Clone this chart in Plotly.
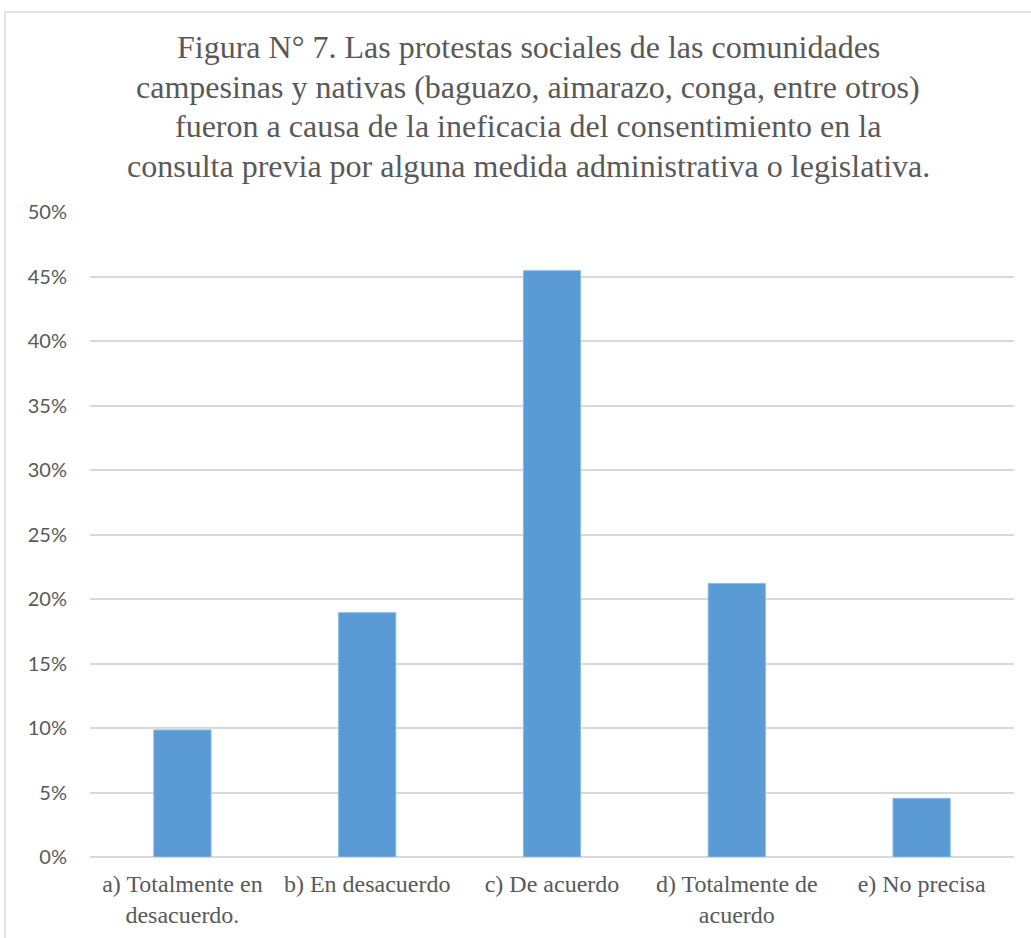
import plotly.graph_objects as go

categories = [
    "a) Totalmente en<br>desacuerdo.",
    "b) En desacuerdo",
    "c) De acuerdo",
    "d) Totalmente de<br>acuerdo",
    "e) No precisa",
]
values = [0.0985, 0.1894, 0.4545, 0.2121, 0.0455]
y_ticks = [0, 0.05, 0.10, 0.15, 0.20, 0.25, 0.30, 0.35, 0.40, 0.45, 0.50]
y_tick_labels = ["0%", "5%", "10%", "15%", "20%", "25%", "30%", "35%", "40%", "45%", "50%"]
title_lines = [
    "Figura N° 7. Las protestas sociales de las comunidades",
    "campesinas y nativas (baguazo, aimarazo, conga, entre otros)",
    "fueron a causa de la ineficacia del consentimiento en la",
    "consulta previa por alguna medida administrativa o legislativa.",
]

W, H = 1031, 938
L, R, T, B = 89.5, 16.5, 212, 81
plot_w = W - L - R
plot_h = H - T - B


def px_x(x):
    return (x - L) / plot_w


def px_y(y):
    # pixel row measured from the top -> paper fraction
    return (H - y - B) / plot_h


fig = go.Figure(
    go.Bar(
        x=categories,
        y=values,
        width=0.31,
        marker=dict(color="#5b9bd5", line=dict(color="#8dbbe6", width=1)),
    )
)

# title lines, one annotation each for even spacing
for i, line in enumerate(title_lines):
    fig.add_annotation(
        text=line,
        x=px_x(528), xref="paper",
        y=px_y(47 + i * 39.5), yref="paper",
        showarrow=False, xanchor="center", yanchor="middle",
        font=dict(family="Liberation Serif, Times New Roman, serif", size=32, color="#595959"),
    )

# chart frame
fig.add_shape(
    type="rect", xref="paper", yref="paper",
    x0=px_x(4.5), x1=px_x(W + 5),
    y0=px_y(H + 10), y1=px_y(12),
    line=dict(color="#d9d9d9", width=1.5), fillcolor="rgba(0,0,0,0)", layer="below",
)

fig.update_layout(
    width=W, height=H,
    margin=dict(l=L, r=R, t=T, b=B, autoexpand=False),
    paper_bgcolor="white", plot_bgcolor="white",
    showlegend=False,
    xaxis=dict(
        showgrid=False, showline=False, ticks="outside", ticklen=5,
        tickcolor="rgba(0,0,0,0)",
        tickfont=dict(family="Liberation Serif, Times New Roman, serif", size=24, color="#595959"),
        fixedrange=True,
    ),
    yaxis=dict(
        range=[0, 0.5], tickvals=y_ticks, ticktext=y_tick_labels,
        showgrid=True, gridcolor="#d9d9d9", gridwidth=1.5,
        zeroline=True, zerolinecolor="#d9d9d9", zerolinewidth=1.5,
        showline=False, ticks="outside", ticklen=18, tickcolor="rgba(0,0,0,0)",
        tickfont=dict(family="Lato, Carlito, Calibri, sans-serif", size=20, color="#595959"),
        fixedrange=True,
    ),
)

fig.write_html("out.html")
